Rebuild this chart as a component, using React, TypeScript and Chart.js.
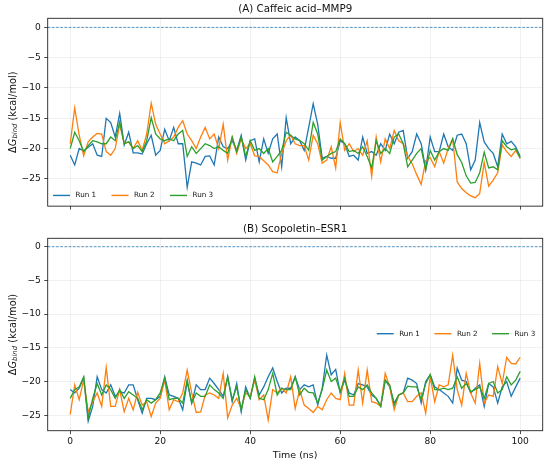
import { useEffect, useRef } from "react";
import { Chart, registerables } from "chart.js";

Chart.register(...registerables);

// ---------- data ----------
const TIME_NS: number[] = Array.from({ length: 101 }, (_, i) => i);
const RUN_LABELS = ["Run 1", "Run 2", "Run 3"];
const RUN_COLORS = ["#1f77b4", "#ff7f0e", "#2ca02c"];
const X_TICKS = [0, 20, 40, 60, 80, 100];
const Y_TICKS = [-25, -20, -15, -10, -5, 0];
const TITLE_A = "(A) Caffeic acid\u2013MMP9";
const TITLE_B = "(B) Scopoletin\u2013ESR1";
const X_LABEL = "Time (ns)";

const A_RUN1 = [
  -21.1, -22.7, -20.0, -20.4, -19.8, -19.2, -21.1, -21.3, -15.0, -15.7,
  -18.1, -14.2, -19.4, -17.3, -20.7, -20.7, -20.9, -19.2, -17.8, -21.1,
  -20.3, -16.8, -18.7, -16.5, -19.2, -19.2, -26.4, -22.2, -22.4, -22.7,
  -21.3, -21.2, -22.7, -18.1, -19.7, -20.0, -18.7, -20.3, -17.8, -21.9,
  -18.7, -18.4, -22.2, -18.4, -20.8, -18.4, -17.6, -23.0, -14.9, -19.2,
  -18.1, -18.7, -20.3, -16.5, -12.6, -16.0, -21.6, -21.3, -21.6, -21.6,
  -18.7, -19.2, -21.3, -21.1, -21.9, -18.1, -20.8, -20.5, -21.1, -19.2,
  -20.3, -17.6, -19.2, -17.3, -17.0, -21.6, -20.5, -17.6, -19.2, -23.5,
  -18.1, -20.5, -20.5, -17.6, -19.7, -20.3, -17.8, -17.6, -19.2, -23.5,
  -21.9, -15.7, -18.9, -20.0, -20.8, -23.0, -17.6, -19.2, -18.8, -19.7, -21.3,
];
const A_RUN2 = [
  -19.2, -13.3, -17.8, -21.2, -18.9, -18.1, -17.5, -17.6, -20.5, -21.1,
  -20.0, -16.0, -19.2, -18.9, -20.0, -18.7, -20.3, -17.6, -12.5, -16.0,
  -17.6, -19.2, -18.7, -18.1, -16.5, -15.4, -17.6, -18.7, -20.0, -18.1,
  -16.5, -18.4, -17.6, -20.0, -16.0, -21.9, -18.1, -20.8, -18.4, -20.0,
  -19.2, -21.2, -21.3, -22.0, -22.7, -23.8, -24.0, -20.8, -18.7, -17.8,
  -19.2, -19.5, -19.5, -21.9, -17.8, -19.2, -22.4, -21.9, -19.7, -23.2,
  -15.7, -20.3, -19.2, -20.5, -20.0, -21.1, -18.7, -24.6, -18.1, -22.2,
  -18.4, -20.0, -17.0, -18.7, -19.2, -21.3, -22.5, -24.3, -25.9, -22.0,
  -21.5, -23.0, -20.5, -22.4, -20.0, -18.4, -25.5, -26.6, -27.3, -27.8,
  -28.1, -27.4, -22.3, -26.2, -25.2, -24.0, -19.4, -20.5, -21.3, -20.3, -21.6,
];
const A_RUN3 = [
  -20.0, -17.3, -18.7, -20.5, -19.5, -18.7, -18.9, -19.2, -19.2, -18.1,
  -18.7, -15.6, -19.2, -18.9, -20.0, -19.5, -20.5, -18.7, -14.9, -17.6,
  -18.4, -18.7, -18.4, -18.7, -17.6, -17.0, -21.3, -19.7, -20.8, -20.0,
  -19.2, -19.5, -20.0, -19.7, -20.3, -20.8, -18.1, -20.5, -18.1, -21.3,
  -18.7, -20.3, -20.0, -20.8, -20.0, -22.2, -21.3, -20.3, -17.3, -17.8,
  -18.4, -18.7, -19.2, -20.3, -15.7, -17.6, -21.9, -21.3, -20.8, -20.5,
  -18.4, -19.2, -20.5, -20.3, -20.8, -19.7, -21.3, -23.2, -18.7, -20.8,
  -20.0, -20.8, -18.1, -17.6, -19.2, -23.0, -21.9, -20.8, -20.0, -23.5,
  -20.3, -21.9, -20.5, -20.0, -20.3, -18.4, -21.0, -22.3, -24.5, -25.7,
  -25.6, -24.0, -20.6, -23.2, -23.0, -23.5, -18.7, -19.7, -20.2, -20.0, -21.6,
];

const B_RUN1 = [
  -21.2, -21.7, -21.0, -19.5, -25.9, -23.7, -19.3, -21.2, -21.7, -20.5,
  -22.2, -21.5, -21.7, -20.5, -20.5, -22.7, -24.7, -22.5, -22.5, -22.7,
  -22.2, -19.3, -22.0, -22.2, -22.5, -24.2, -20.0, -23.2, -20.5, -21.2,
  -21.2, -19.5, -20.3, -21.2, -22.2, -19.3, -23.0, -20.3, -24.5, -20.8,
  -22.5, -19.5, -22.0, -20.8, -19.3, -18.0, -20.0, -21.7, -21.0, -21.0,
  -19.3, -21.2, -20.5, -20.8, -20.5, -23.5, -21.0, -16.1, -19.0, -18.2,
  -21.7, -19.8, -21.7, -22.0, -20.3, -20.5, -20.8, -22.0, -22.5, -23.7,
  -19.8, -20.8, -23.2, -22.0, -21.7, -19.5, -19.8, -20.3, -23.2, -20.0,
  -19.0, -20.8, -21.2, -21.7, -22.2, -23.2, -18.0, -19.8, -20.0, -21.7,
  -21.0, -20.5, -23.7, -20.3, -20.8, -23.2, -20.8, -20.0, -22.2, -20.8, -19.5,
];
const B_RUN2 = [
  -24.9, -20.5, -22.7, -19.8, -24.5, -23.0, -21.7, -23.7, -17.9, -23.7,
  -23.7, -21.2, -24.5, -22.5, -24.2, -21.6, -23.5, -23.0, -25.2, -23.2,
  -22.5, -19.8, -24.2, -22.7, -23.0, -21.7, -18.3, -21.7, -24.6, -24.5,
  -22.0, -21.7, -22.0, -22.5, -18.8, -25.4, -23.5, -22.5, -24.0, -21.7,
  -22.2, -19.8, -22.7, -22.0, -25.7, -21.2, -21.7, -21.0, -21.7, -19.3,
  -24.0, -21.2, -23.5, -24.0, -24.6, -23.7, -24.2, -22.7, -21.7, -22.5,
  -22.7, -18.8, -23.5, -23.5, -18.3, -23.2, -18.3, -23.0, -23.2, -23.7,
  -18.8, -20.8, -24.2, -22.0, -21.7, -23.0, -23.0, -22.2, -21.7, -24.7,
  -19.3, -23.0, -20.5, -20.8, -20.5, -16.1, -21.2, -23.5, -18.8, -21.7,
  -23.2, -17.3, -23.2, -22.0, -22.2, -17.8, -20.3, -16.4, -17.3, -17.4, -16.4,
];
const B_RUN3 = [
  -22.5, -21.2, -20.8, -19.3, -25.4, -22.5, -20.3, -22.0, -20.5, -21.2,
  -22.5, -21.2, -22.5, -21.5, -22.0, -22.5, -24.2, -22.7, -23.2, -22.7,
  -21.7, -19.5, -22.7, -22.5, -22.5, -23.2, -19.8, -23.2, -21.7, -22.2,
  -22.2, -20.5, -21.2, -21.7, -22.5, -19.3, -22.7, -20.8, -24.2, -21.2,
  -22.5, -19.3, -22.5, -22.7, -21.2, -18.8, -22.0, -21.0, -21.2, -21.2,
  -19.3, -22.0, -21.0, -21.6, -21.7, -23.2, -21.2, -18.3, -20.0, -19.5,
  -21.5, -19.5, -22.2, -22.2, -20.8, -21.2, -20.5, -21.7, -22.5, -23.7,
  -19.8, -20.5, -23.5, -22.0, -21.7, -20.7, -20.8, -20.8, -22.7, -20.3,
  -19.0, -21.2, -21.2, -21.0, -21.2, -21.0, -19.3, -21.0, -20.3, -21.5,
  -21.2, -20.8, -22.5, -20.3, -20.0, -21.7, -21.2, -19.3, -20.5, -19.8, -18.5,
];

// ---------- styling ----------
const FAMILY = '"DejaVu Sans", "Liberation Sans", sans-serif';
const TICK_SIZE = 9.1;
const TITLE_SIZE = 10.3;
const LABEL_SIZE = 9.8;
const LEGEND_SIZE = 7.2;
const GRID_COLOR = "rgba(0,0,0,0.07)";
const TEXT_COLOR = "#111";

type LegendMode = "lowerleft" | "centerright";

type PanelProps = {
  title: string;
  runs: number[][];
  yMin: number;
  yMax: number;
  showXLabels: boolean;
  legend: LegendMode;
  top: number;
  height: number;
  padTop: number;
  xAxisHeight: number;
};

const decoPlugin = {
  id: "panelDeco",
  afterDraw(chart: any, _args: any, opts: any) {
    const { ctx, chartArea: ca } = chart;
    ctx.save();
    // zero dashed line
    const y0 = chart.scales.y.getPixelForValue(0);
    ctx.beginPath();
    ctx.setLineDash([2.6, 1.6]);
    ctx.strokeStyle = "rgba(31,119,180,0.85)";
    ctx.lineWidth = 0.9;
    ctx.moveTo(ca.left, y0);
    ctx.lineTo(ca.right, y0);
    ctx.stroke();
    ctx.setLineDash([]);

    // frame
    ctx.strokeStyle = "#222";
    ctx.lineWidth = 0.9;
    ctx.strokeRect(ca.left, ca.top, ca.right - ca.left, ca.bottom - ca.top);

    // title
    ctx.fillStyle = TEXT_COLOR;
    ctx.font = `${TITLE_SIZE}px ${FAMILY}`;
    ctx.textAlign = "center";
    ctx.textBaseline = "alphabetic";
    ctx.fillText(opts.title, (ca.left + ca.right) / 2, ca.top - 6);

    // y label with subscript
    const cy = (ca.top + ca.bottom) / 2;
    const parts = [
      { t: "\u0394", font: `${LABEL_SIZE}px ${FAMILY}`, dy: 0 },
      { t: "G", font: `italic ${LABEL_SIZE}px ${FAMILY}`, dy: 0 },
      { t: "bind", font: `italic ${LABEL_SIZE * 0.7}px ${FAMILY}`, dy: LABEL_SIZE * 0.22 },
      { t: " (kcal/mol)", font: `${LABEL_SIZE}px ${FAMILY}`, dy: 0 },
    ];
    let total = 0;
    const widths = parts.map((p) => {
      ctx.font = p.font;
      const w = ctx.measureText(p.t).width;
      total += w;
      return w;
    });
    ctx.save();
    ctx.translate(13, cy);
    ctx.rotate(-Math.PI / 2);
    ctx.textAlign = "left";
    ctx.textBaseline = "middle";
    let x = -total / 2;
    parts.forEach((p, i) => {
      ctx.font = p.font;
      ctx.fillText(p.t, x, p.dy);
      x += widths[i];
    });
    ctx.restore();

    // x label
    if (opts.xLabel) {
      ctx.font = `${9.5}px ${FAMILY}`;
      ctx.textAlign = "center";
      ctx.textBaseline = "alphabetic";
      ctx.fillText(opts.xLabel, (ca.left + ca.right) / 2, ca.bottom + 26.8);
    }

    // legend
    const ds = chart.data.datasets;
    const pitch = opts.legend === "lowerleft" ? 58.5 : 57.7;
    const lx0 = opts.legend === "lowerleft" ? ca.left + 5.3 : ca.left + 329;
    const ly = opts.legend === "lowerleft" ? ca.bottom - 10.7 : (ca.top + ca.bottom) / 2 - 0.8;
    ctx.font = `${LEGEND_SIZE}px ${FAMILY}`;
    ctx.textAlign = "left";
    ctx.textBaseline = "middle";
    ds.forEach((d: any, i: number) => {
      const lx = lx0 + i * pitch;
      ctx.beginPath();
      ctx.strokeStyle = d.borderColor;
      ctx.lineWidth = 1.4;
      ctx.moveTo(lx, ly);
      ctx.lineTo(lx + 17, ly);
      ctx.stroke();
      ctx.fillStyle = TEXT_COLOR;
      ctx.fillText(d.label, lx + 22.5, ly);
    });
    ctx.restore();
  },
};

function Panel(props: PanelProps) {
  const ref = useRef<HTMLCanvasElement | null>(null);
  useEffect(() => {
    if (!ref.current) return;
    const tickFont = { family: FAMILY, size: TICK_SIZE };
    const datasets = props.runs.map((vals, i) => ({
      label: RUN_LABELS[i],
      data: vals.map((v, j) => ({ x: TIME_NS[j], y: v })),
      borderColor: RUN_COLORS[i],
      backgroundColor: RUN_COLORS[i],
      borderWidth: 1.3,
      pointRadius: 0,
      tension: 0,
      fill: false,
      order: props.runs.length - i,
    }));
    const chart = new Chart(ref.current, {
      type: "line",
      data: { datasets },
      plugins: [decoPlugin],
      options: {
        animation: false,
        responsive: true,
        maintainAspectRatio: false,
        events: [],
        layout: { padding: { left: 0, right: 7.3, top: props.padTop, bottom: 0 } },
        plugins: {
          legend: { display: false },
          tooltip: { enabled: false },
          panelDeco: {
            title: props.title,
            legend: props.legend,
            xLabel: props.showXLabels ? X_LABEL : "",
          },
        } as any,
        scales: {
          x: {
            type: "linear",
            min: -5,
            max: 105,
            afterBuildTicks: (s: any) => {
              s.ticks = X_TICKS.map((v) => ({ value: v }));
            },
            afterFit: (s: any) => {
              s.height = props.xAxisHeight;
            },
            grid: {
              color: GRID_COLOR,
              lineWidth: 0.8,
              drawTicks: true,
              tickLength: 3.5,
              tickColor: "#222",
              tickWidth: 0.8,
            },
            border: { display: false },
            ticks: {
              display: props.showXLabels,
              font: tickFont,
              color: TEXT_COLOR,
              padding: 2.2,
              maxRotation: 0,
              autoSkip: false,
              callback: (v: any) => String(v),
            },
          },
          y: {
            type: "linear",
            min: props.yMin,
            max: props.yMax,
            afterBuildTicks: (s: any) => {
              s.ticks = Y_TICKS.map((v) => ({ value: v }));
            },
            afterFit: (s: any) => {
              s.width = 47.7;
            },
            grid: {
              color: GRID_COLOR,
              lineWidth: 0.8,
              drawTicks: true,
              tickLength: 3.5,
              tickColor: "#222",
              tickWidth: 0.8,
            },
            border: { display: false },
            ticks: {
              font: tickFont,
              color: TEXT_COLOR,
              padding: 3.4,
              autoSkip: false,
              callback: (v: any) => String(v).replace("-", "\u2212"),
            },
          },
        },
      } as any,
    });
    return () => chart.destroy();
  }, []);
  return (
    <div
      style={{
        position: "absolute",
        left: 0,
        top: props.top,
        width: 550,
        height: props.height,
      }}
    >
      <canvas ref={ref} />
    </div>
  );
}

export default function App() {
  return (
    <div
      style={{
        position: "absolute",
        left: 0,
        top: 0,
        width: 550,
        height: 466,
        background: "#fff",
        overflow: "hidden",
      }}
    >
      <Panel
        title={TITLE_A}
        runs={[A_RUN1, A_RUN2, A_RUN3]}
        yMin={-29.5}
        yMax={1.5}
        showXLabels={false}
        legend="lowerleft"
        top={0}
        height={215}
        padTop={18.3}
        xAxisHeight={4.3}
      />
      <Panel
        title={TITLE_B}
        runs={[B_RUN1, B_RUN2, B_RUN3]}
        yMin={-27.3}
        yMax={1.25}
        showXLabels={true}
        legend="centerright"
        top={215}
        height={251}
        padTop={23.3}
        xAxisHeight={35.3}
      />
    </div>
  );
}
